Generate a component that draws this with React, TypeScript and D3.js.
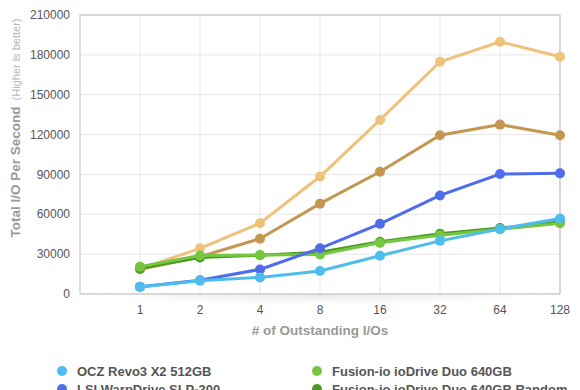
import React from 'react';
import * as d3 from 'd3';

// outstanding I/O depth
const queueDepths = ['1', '2', '4', '8', '16', '32', '64', '128'];
const yTicks = [0, 30000, 60000, 90000, 120000, 150000, 180000, 210000];

const seriesNames = [
  'OCZ Revo3 X2 512GB',
  'LSI WarpDrive SLP-300',
  'Fusion-io ioDrive Duo 640GB',
  'Fusion-io ioDrive Duo 640GB Random',
  'Micron RealSSD P320h 700GB',
  'Micron RealSSD P320h 700GB Random',
];
const seriesColors = ['#4dbdee', '#4f6deb', '#77c642', '#4a9a22', '#c4964f', '#efc27a'];

const ocz = [5300, 10000, 12500, 17300, 28800, 40000, 48900, 56800];
const lsi = [5400, 10300, 18500, 34400, 52800, 74200, 90300, 90800];
const duo = [20600, 29000, 29300, 29800, 38500, 44300, 48800, 53200];
const duoRandom = [19300, 27500, 29200, 31500, 39300, 45300, 49600, 54300];
const micron = [18600, 28000, 41600, 68000, 92000, 119500, 127500, 119500];
const micronRandom = [18800, 34400, 53300, 88400, 131000, 174800, 189900, 178600];

const seriesValues = [ocz, lsi, duo, duoRandom, micron, micronRandom];

const W = 580;
const H = 390;
const margin = { top: 15, right: 20, bottom: 96, left: 80 };
const innerW = W - margin.left - margin.right;
const innerH = H - margin.top - margin.bottom;

const App = () => {
  const x = d3.scaleLinear().domain([0, queueDepths.length]).range([0, innerW]);
  const y = d3.scaleLinear().domain([0, 210000]).range([innerH, 0]);
  const line = d3.line<number>()
    .x((d, i) => x(i + 1))
    .y(d => y(d));

  const font = '"Liberation Sans", Arial, Helvetica, sans-serif';
  // draw last series first so OCZ sits on top
  const order = d3.range(seriesValues.length).reverse();

  return (
    <svg width={W} height={H} style={{ position: 'absolute', left: 0, top: 0, fontFamily: font }}>
      <defs>
        <radialGradient id="shadow" cx="50%" cy="0%" r="50%">
          <stop offset="0%" stopColor="#000" stopOpacity={0.09} />
          <stop offset="100%" stopColor="#000" stopOpacity={0} />
        </radialGradient>
      </defs>
      <g transform={`translate(${margin.left},${margin.top})`}>
        <rect x={10} y={innerH} width={innerW - 20} height={22} fill="url(#shadow)" />
        <rect x={0} y={0} width={innerW} height={innerH} fill="#fff" />
        {yTicks.map(t => (
          <line key={'gy' + t} x1={0} x2={innerW} y1={y(t)} y2={y(t)} stroke="#e8e8e8" />
        ))}
        {queueDepths.map((q, i) => (
          <line key={'gx' + q} x1={x(i + 1)} x2={x(i + 1)} y1={0} y2={innerH} stroke="#e8e8e8" />
        ))}
        <rect x={0} y={0} width={innerW} height={innerH} fill="none" stroke="#bdbdbd" />
        {yTicks.map(t => (
          <text key={'ty' + t} x={-10} y={y(t)} dy="0.35em" textAnchor="end" fontSize={12} fill="#555">
            {t}
          </text>
        ))}
        {queueDepths.map((q, i) => (
          <text key={'tx' + q} x={x(i + 1)} y={innerH + 20} textAnchor="middle" fontSize={12} fill="#555">
            {q}
          </text>
        ))}
        {order.map(s => (
          <g key={'s' + s}>
            <path d={line(seriesValues[s]) || ''} fill="none" stroke={seriesColors[s]} strokeWidth={3} />
            {seriesValues[s].map((v, i) => (
              <circle key={i} cx={x(i + 1)} cy={y(v)} r={5} fill={seriesColors[s]} />
            ))}
          </g>
        ))}
        <text x={innerW / 2} y={innerH + 41} textAnchor="middle" fontSize={13.5} fontWeight="bold" fill="#999">
          # of Outstanding I/Os
        </text>
      </g>
      <text transform={`translate(20,${128}) rotate(-90)`} textAnchor="middle" fill="#999">
        <tspan fontSize={13.5} fontWeight="bold">Total I/O Per Second</tspan>
        <tspan fontSize={11} fill="#b5b5b5" dx={6}>(Higher is better)</tspan>
      </text>
      {seriesNames.map((name, i) => {
        const col = i < 2 ? 0 : i < 4 ? 1 : 0;
        const row = i < 4 ? i % 2 : 2 + (i - 4);
        const lx = col === 0 ? 62 : 317;
        const ly = 371 + row * 18;
        return (
          <g key={'l' + i}>
            <circle cx={lx} cy={ly} r={5} fill={seriesColors[i]} />
            <text x={lx + 15} y={ly} dy="0.35em" fontSize={13} fontWeight="bold" fill="#555">
              {name}
            </text>
          </g>
        );
      })}
    </svg>
  );
};

export default App;
